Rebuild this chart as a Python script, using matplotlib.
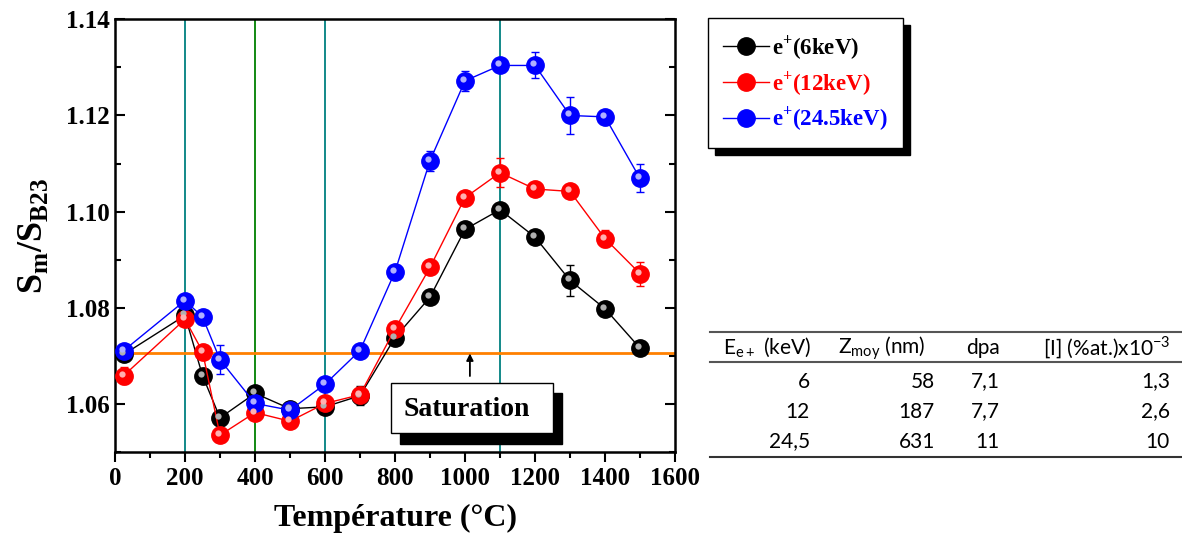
import numpy as np
import matplotlib.pyplot as plt
from matplotlib import transforms
from matplotlib.patches import Rectangle

plt.rcParams['font.family'] = ['Liberation Serif', 'DejaVu Serif']
plt.rcParams['mathtext.fontset'] = 'custom'
plt.rcParams['mathtext.rm'] = 'Liberation Serif:bold'
plt.rcParams['mathtext.bf'] = 'Liberation Serif:bold'

temp = [25, 200, 250, 300, 400, 500, 600, 700, 800, 900, 1000, 1100, 1200, 1300, 1400, 1500]

s6 = [1.0703, 1.0784, 1.0659, 1.0571, 1.0622, 1.0590, 1.0594, 1.0617, 1.0738, 1.0822, 1.0963, 1.1004, 1.0947, 1.0857, 1.0798, 1.0716]
e6 = [0.0008, 0.0006, 0.0006, 0.0008, 0.0008, 0.0010, 0.0006, 0.0020, 0.0008, 0.0006, 0.0006, 0.0006, 0.0006, 0.0032, 0.0010, 0.0006]

s12 = [1.0659, 1.0776, 1.0709, 1.0535, 1.0582, 1.0564, 1.0601, 1.0619, 1.0756, 1.0884, 1.1029, 1.1081, 1.1047, 1.1042, 1.0944, 1.0871]
e12 = [0.0018, 0.0010, 0.0006, 0.0014, 0.0008, 0.0008, 0.0008, 0.0016, 0.0010, 0.0006, 0.0006, 0.0030, 0.0006, 0.0006, 0.0018, 0.0025]

s245 = [1.0711, 1.0815, 1.0781, 1.0692, 1.0601, 1.0587, 1.0641, 1.0711, 1.0875, 1.1106, 1.1272, 1.1304, 1.1304, 1.1200, 1.1197, 1.1069]
e245 = [0.0006, 0.0006, 0.0006, 0.0030, 0.0008, 0.0012, 0.0006, 0.0006, 0.0006, 0.0021, 0.0021, 0.0008, 0.0027, 0.0038, 0.0006, 0.0029]

labels = ['e$^{+}$(6keV)', 'e$^{+}$(12keV)', 'e$^{+}$(24.5keV)']
colors = ['black', 'red', 'blue']
highlights = ['#b0b0b0', '#ffb0b0', '#b0b0ff']

teal_lines = [200, 600, 1100]
green_lines = [400]
saturation = 1.0705

tab_header = ['E$_{\\mathregular{e+}}$ (keV)', 'Z$_{\\mathregular{moy}}$ (nm)', 'dpa', '[I] (%at.)x10$^{\\mathregular{-3}}$']
tab_energy = ['6', '12', '24,5']
tab_z = ['58', '187', '631']
tab_dpa = ['7,1', '7,7', '11']
tab_conc = ['1,3', '2,6', '10']

W, H = 1182, 539
fig = plt.figure(figsize=(W / 100, H / 100), dpi=100)
ax = fig.add_axes([115 / W, 1 - 452 / H, 560 / W, (452 - 19.3) / H])

for x in teal_lines:
    ax.axvline(x, color='#008080', lw=1.3, zorder=1)
for x in green_lines:
    ax.axvline(x, color='#008000', lw=1.3, zorder=1)
ax.axhline(saturation, color='#ff8000', lw=2, zorder=1)

hl = transforms.offset_copy(ax.transData, fig=fig, x=-2, y=2, units='dots')
handles = []
for ys, es, c, h, lab in zip([s6, s12, s245], [e6, e12, e245], colors, highlights, labels):
    ax.errorbar(temp, ys, yerr=es, color=c, lw=1, capsize=3, capthick=1,
                elinewidth=1, fmt='none', zorder=2)
    line, = ax.plot(temp, ys, '-o', color=c, lw=1, ms=12.5, mfc=c, mec=c, zorder=3, label=lab)
    ax.plot(temp, ys, 'o', ms=4.5, mfc=h, mec='none', transform=hl, zorder=4)
    handles.append(line)

ax.set_xlim(0, 1600)
ax.set_ylim(1.05, 1.14)
ax.set_xticks(np.arange(0, 1601, 200))
ax.set_xticks(np.arange(0, 1601, 100), minor=True)
ax.set_yticks([1.06, 1.08, 1.10, 1.12, 1.14])
ax.set_yticks(np.arange(1.05, 1.1401, 0.01), minor=True)
ax.set_yticklabels(['1.06', '1.08', '1.10', '1.12', '1.14'])
ax.tick_params(which='both', direction='in', width=1.5, top=False, right=True)
ax.tick_params(which='major', length=7, labelsize=18)
ax.tick_params(which='minor', length=4)
ax.tick_params(axis='x', which='both', direction='out')
for lab in ax.get_xticklabels() + ax.get_yticklabels():
    lab.set_fontweight('bold')
for sp in ax.spines.values():
    sp.set_linewidth(1.8)

ax.set_xlabel('Température (°C)', fontsize=23, fontweight='bold', labelpad=10)
ax.set_ylabel('S$_{\\mathregular{m}}$/S$_{\\mathregular{B23}}$', fontsize=26, fontweight='bold', labelpad=12)

# saturation label with shadow box
ax.annotate('', xy=(1014, saturation), xytext=(1014, 1.0658),
            arrowprops=dict(arrowstyle='-|>', color='black', lw=1.3, mutation_scale=10,
                            shrinkA=0, shrinkB=0))
fig.patches.append(Rectangle((400 / W, 1 - 444 / H), 162 / W, 51 / H, transform=fig.transFigure,
                             facecolor='black', edgecolor='black', zorder=5))
fig.patches.append(Rectangle((391 / W, 1 - 433 / H), 162 / W, 50 / H, transform=fig.transFigure,
                             facecolor='white', edgecolor='black', lw=1, zorder=6))
fig.text(467 / W, 1 - 410 / H, 'Saturation', fontsize=20, fontweight='bold',
         ha='center', va='center', zorder=7)

# legend with shadow
leg = fig.legend(handles=handles, loc='upper left', bbox_to_anchor=(708 / W, 1 - 18 / H),
                 frameon=True, fancybox=False, edgecolor='black', framealpha=1, fontsize=16.5,
                 handlelength=2.0, borderpad=0.65, labelspacing=0.3, handletextpad=0.15,
                 borderaxespad=0)
leg.get_frame().set_linewidth(1)
leg.set_zorder(6)
for t, c in zip(leg.get_texts(), colors):
    t.set_color(c)
    t.set_fontweight('bold')
fig.canvas.draw()
bb = leg.get_window_extent()
fig.patches.append(Rectangle((bb.x0 + 7, bb.y0 - 7), bb.width, bb.height, transform=None,
                             facecolor='black', edgecolor='black', zorder=5))

# table
tfont = dict(family=['Lato', 'DejaVu Sans'], fontsize=15)
for y in [331.7, 362.3]:
    fig.add_artist(plt.Line2D([710 / W, 1182 / W], [1 - y / H, 1 - y / H], color='#555555', lw=1.5))
fig.add_artist(plt.Line2D([710 / W, 1182 / W], [1 - 456.7 / H, 1 - 456.7 / H], color='#333333', lw=1.5))
fig.text(723 / W, 1 - 348 / H, tab_header[0], ha='left', va='center', **tfont)
fig.text(838 / W, 1 - 348 / H, tab_header[1], ha='left', va='center', **tfont)
fig.text(1000 / W, 1 - 348 / H, tab_header[2], ha='right', va='center', **tfont)
fig.text(1171 / W, 1 - 348 / H, tab_header[3], ha='right', va='center', **tfont)
for i in range(len(tab_energy)):
    y = 1 - (381.5 + 30 * i) / H
    fig.text(810 / W, y, tab_energy[i], ha='right', va='center', **tfont)
    fig.text(935 / W, y, tab_z[i], ha='right', va='center', **tfont)
    fig.text(1000 / W, y, tab_dpa[i], ha='right', va='center', **tfont)
    fig.text(1170 / W, y, tab_conc[i], ha='right', va='center', **tfont)

plt.savefig('out.png', dpi=100)
